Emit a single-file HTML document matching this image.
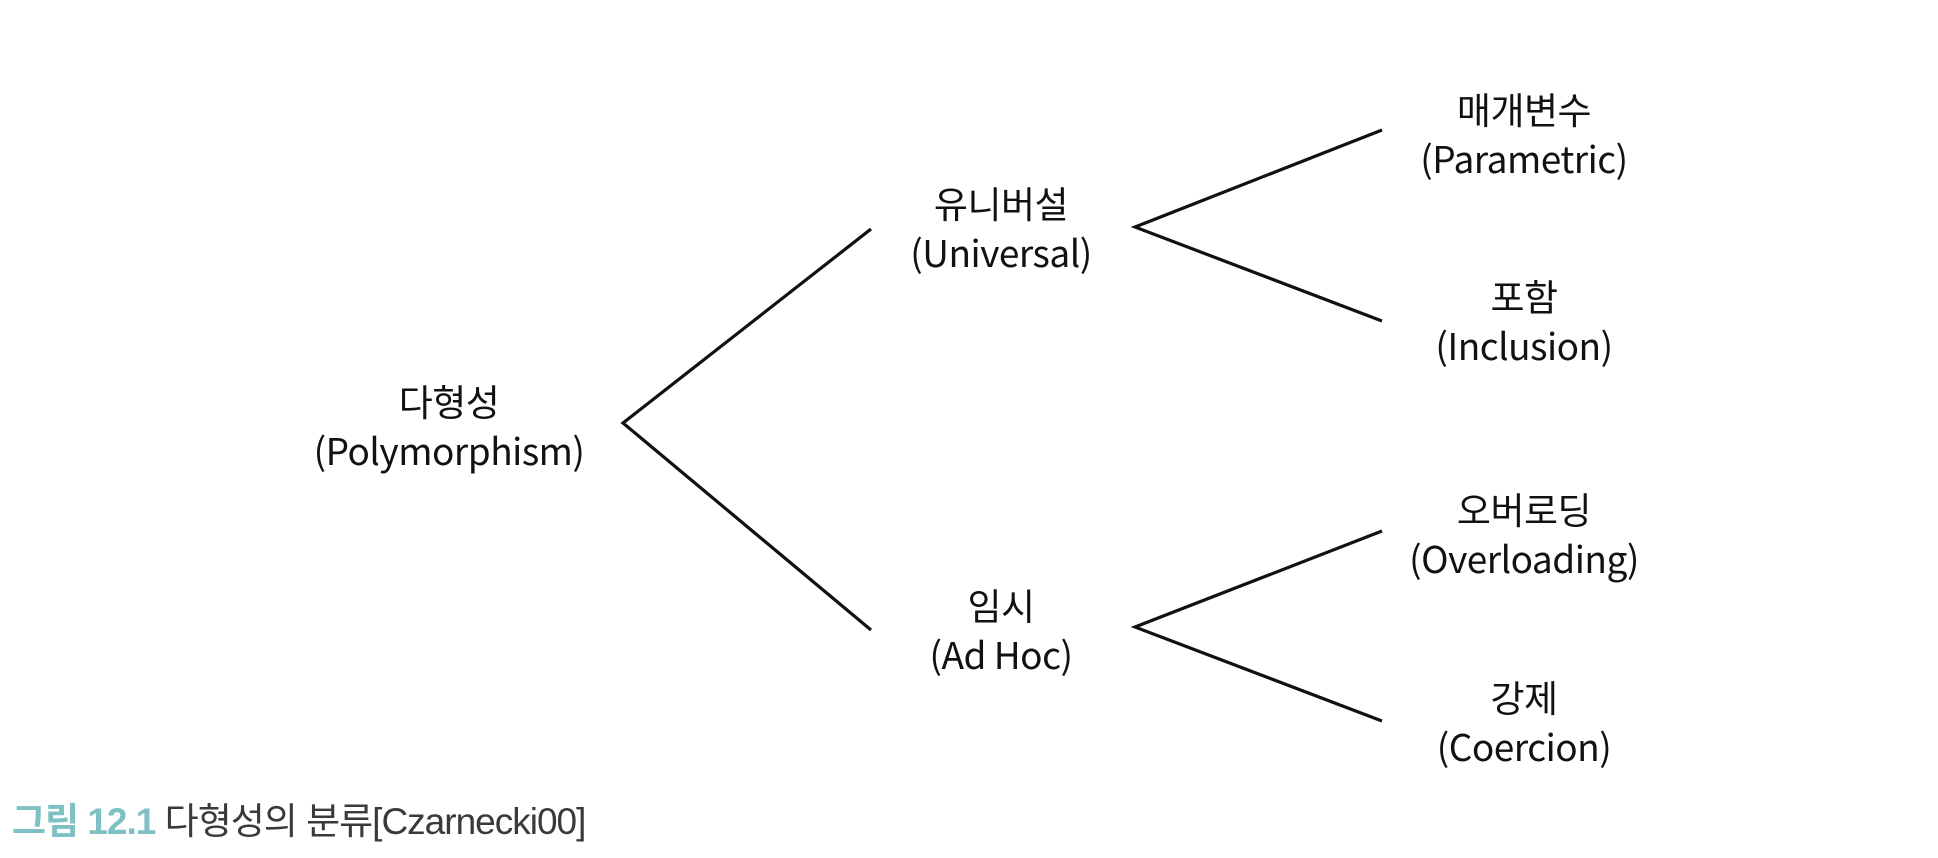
<!DOCTYPE html>
<html><head><meta charset="utf-8"><style>
body{margin:0;width:1938px;height:858px;background:#fff;position:relative;overflow:hidden;font-family:"Noto Sans CJK KR","Liberation Sans",sans-serif;color:#111}
.l{position:absolute;text-align:center;font-size:37px;line-height:49px;width:400px;white-space:nowrap;letter-spacing:-0.5px}
.cap{position:absolute;left:12px;top:797px;font-size:37px;line-height:50px;white-space:nowrap;font-family:"Liberation Sans","Noto Sans CJK KR",sans-serif;letter-spacing:-1px}
</style></head><body>
<svg width="1938" height="858" style="position:absolute;left:0;top:0">
<g stroke="#111" stroke-width="3.2" fill="none">
<polyline points="871,229 623,423 871,630"/>
<polyline points="1382,130 1135,227 1382,321"/>
<polyline points="1382,531 1135,627 1382,721"/>
</g></svg>
<div class="l" style="left:249px;top:376px">다형성<br>(Polymorphism)</div>
<div class="l" style="left:801px;top:178px">유니버설<br>(Universal)</div>
<div class="l" style="left:801px;top:580px">임시<br>(Ad Hoc)</div>
<div class="l" style="left:1324px;top:84px">매개변수<br>(Parametric)</div>
<div class="l" style="left:1324px;top:271px">포함<br>(Inclusion)</div>
<div class="l" style="left:1324px;top:484px">오버로딩<br>(Overloading)</div>
<div class="l" style="left:1324px;top:672px">강제<br>(Coercion)</div>
<div class="cap"><b style="color:#7fc0c3">그림 12.1</b> <span style="color:#3a3a3a">다형성의 분류[Czarnecki00]</span></div>
</body></html>
